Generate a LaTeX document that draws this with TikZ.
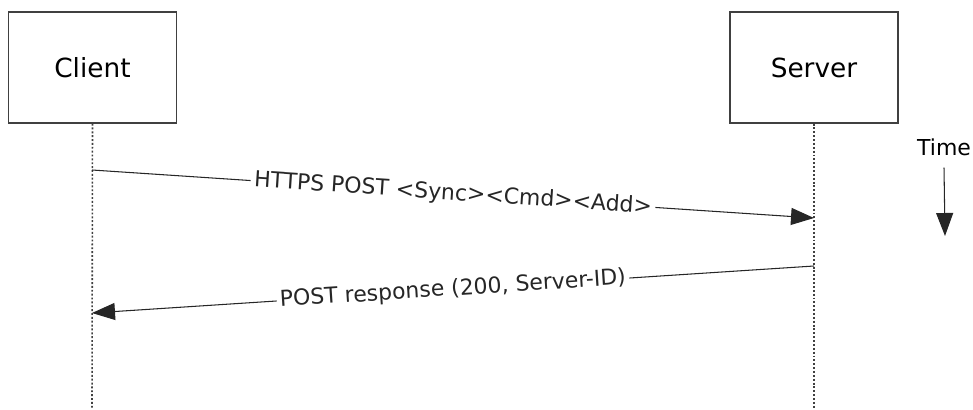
\documentclass[tikz,border=0pt]{standalone}
\usepackage{fontspec}
\setmainfont{DejaVu Sans}
\usetikzlibrary{arrows.meta}
\begin{document}
\begin{tikzpicture}[x=0.02cm, y=-0.02cm,
        party/.style={draw=black!75, line width=0.7pt, minimum width=3.36cm, minimum height=2.22cm, font=\fontsize{15}{18}\selectfont},
        lifeline/.style={draw=black!75, line width=0.9pt, dash pattern=on 1.1pt off 1.1pt},
        msg/.style={-{Triangle[length=0.46cm, width=0.34cm]}, line width=0.6pt, black!85},
        msglabel/.style={fill=white, inner sep=2pt, font=\fontsize{12.5}{15}\selectfont, sloped}]
        \useasboundingbox (0,0) rectangle (973,409);

        % Parties
        \node[party] (client) at (92.5, 67.5) {Client};
        \node[party] (server) at (814, 67.5) {Server};

        % Lifelines
        \coordinate (clientend) at (92, 409);
        \coordinate (serverend) at (814, 409);
        \draw[lifeline] (client.south) -- (clientend);
        \draw[lifeline] (server.south) -- (serverend);

        % Message ends on the lifelines
        \coordinate (req) at (92, 170);
        \coordinate (reqend) at (814, 218);
        \coordinate (resp) at (814, 266);
        \coordinate (respend) at (92, 313);

        % Messages
        \draw[msg] (req) -- node[msglabel] {HTTPS POST <Sync><Cmd><Add>} (reqend);
        \draw[msg] (resp) -- node[msglabel] {POST response (200, Server-ID)} (respend);

        % Time arrow
        \node[font=\fontsize{12.5}{15}\selectfont] (time) at (944, 147) {Time};
        \coordinate (timeend) at (945, 236);
        \draw[msg] (time.south) ++(0, 6) -- (timeend);
\end{tikzpicture}
\end{document}
